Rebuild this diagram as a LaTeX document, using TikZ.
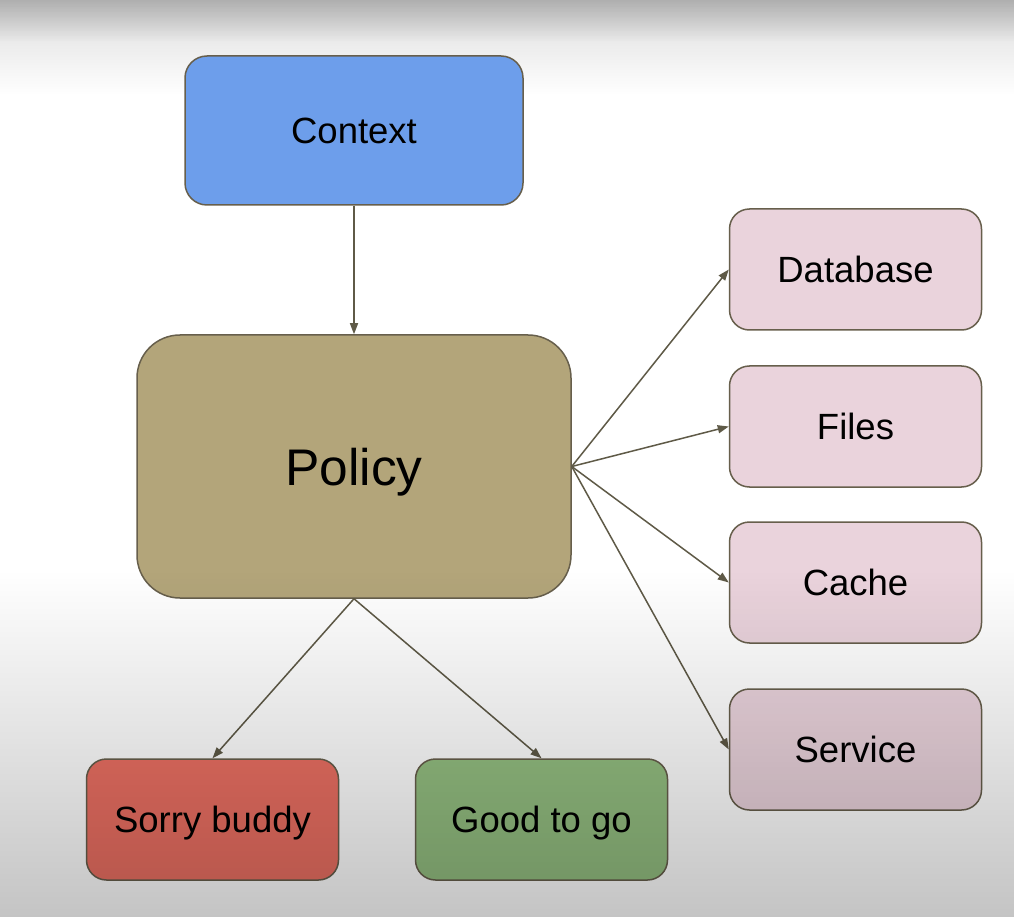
\documentclass[tikz,border=0pt]{standalone}
\usepackage{fontspec}
\setmainfont{Liberation Sans}
\usetikzlibrary{arrows.meta,fadings}
\tikzfading[name=fadetopdark, top color=transparent!0, bottom color=transparent!100]
\tikzfading[name=fadebottomdark, top color=transparent!100, bottom color=transparent!0]
\definecolor{ctxblue}{HTML}{6D9EEB}
\definecolor{polcol}{HTML}{B3A57A}
\definecolor{pinkbox}{HTML}{EAD3DC}
\definecolor{redbox}{HTML}{EC7063}
\definecolor{greenbox}{HTML}{94BF81}
\definecolor{edgecol}{HTML}{675F4C}
\definecolor{arrcol}{HTML}{5F5A47}
\tikzset{
  boxbase/.style={draw=edgecol, line width=1.5pt, rounded corners=20pt, inner sep=0pt,
    font=\fontsize{36.5}{40}\selectfont, text=black, text height=26pt, text depth=0pt},
  smallbox/.style={boxbase, minimum width=252pt, minimum height=121pt},
  conn/.style={draw=arrcol, line width=1.5pt, -{Triangle[length=11pt,width=8pt]}}
}
\begin{document}
\begin{tikzpicture}[x=1pt,y=-1pt]
\useasboundingbox (0,0) rectangle (1015,917);
\fill[white] (0,0) rectangle (1015,917);
\fill[black, fill opacity=0.20, path fading=fadetopdark] (0,0) rectangle (1015,42);
\fill[black, fill opacity=0.14, path fading=fadetopdark] (0,0) rectangle (1015,95);

\node[boxbase, fill=ctxblue, minimum width=338pt, minimum height=149pt, rounded corners=22pt] (ctx) at (354,130.5) {Context};
\node[boxbase, fill=polcol, minimum width=434pt, minimum height=263pt, rounded corners=43pt, font=\fontsize{51.5}{56}\selectfont, text height=37pt] (pol) at (354,466.5) {Policy};
\node[smallbox, fill=pinkbox] (db) at (855.5,269.5) {Database};
\node[smallbox, fill=pinkbox] (fil) at (855.5,426.5) {Files};
\node[smallbox, fill=pinkbox] (cac) at (855.5,582.5) {Cache};
\node[smallbox, fill=pinkbox] (svc) at (855.5,749.5) {Service};
\node[smallbox, fill=redbox] (sorry) at (212.5,819.5) {Sorry buddy};
\node[smallbox, fill=greenbox] (good) at (541.5,819.5) {Good to go};

\draw[conn] (ctx.south) -- (pol.north);
\draw[conn] (pol.east) -- (db.west);
\draw[conn] (pol.east) -- (fil.west);
\draw[conn] (pol.east) -- (cac.west);
\draw[conn] (pol.east) -- (svc.west);
\draw[conn] (pol.south) -- (sorry.north);
\draw[conn] (pol.south) -- (good.north);

\fill[black, fill opacity=0.23, path fading=fadebottomdark] (0,570) rectangle (1015,917);
\end{tikzpicture}
\end{document}
